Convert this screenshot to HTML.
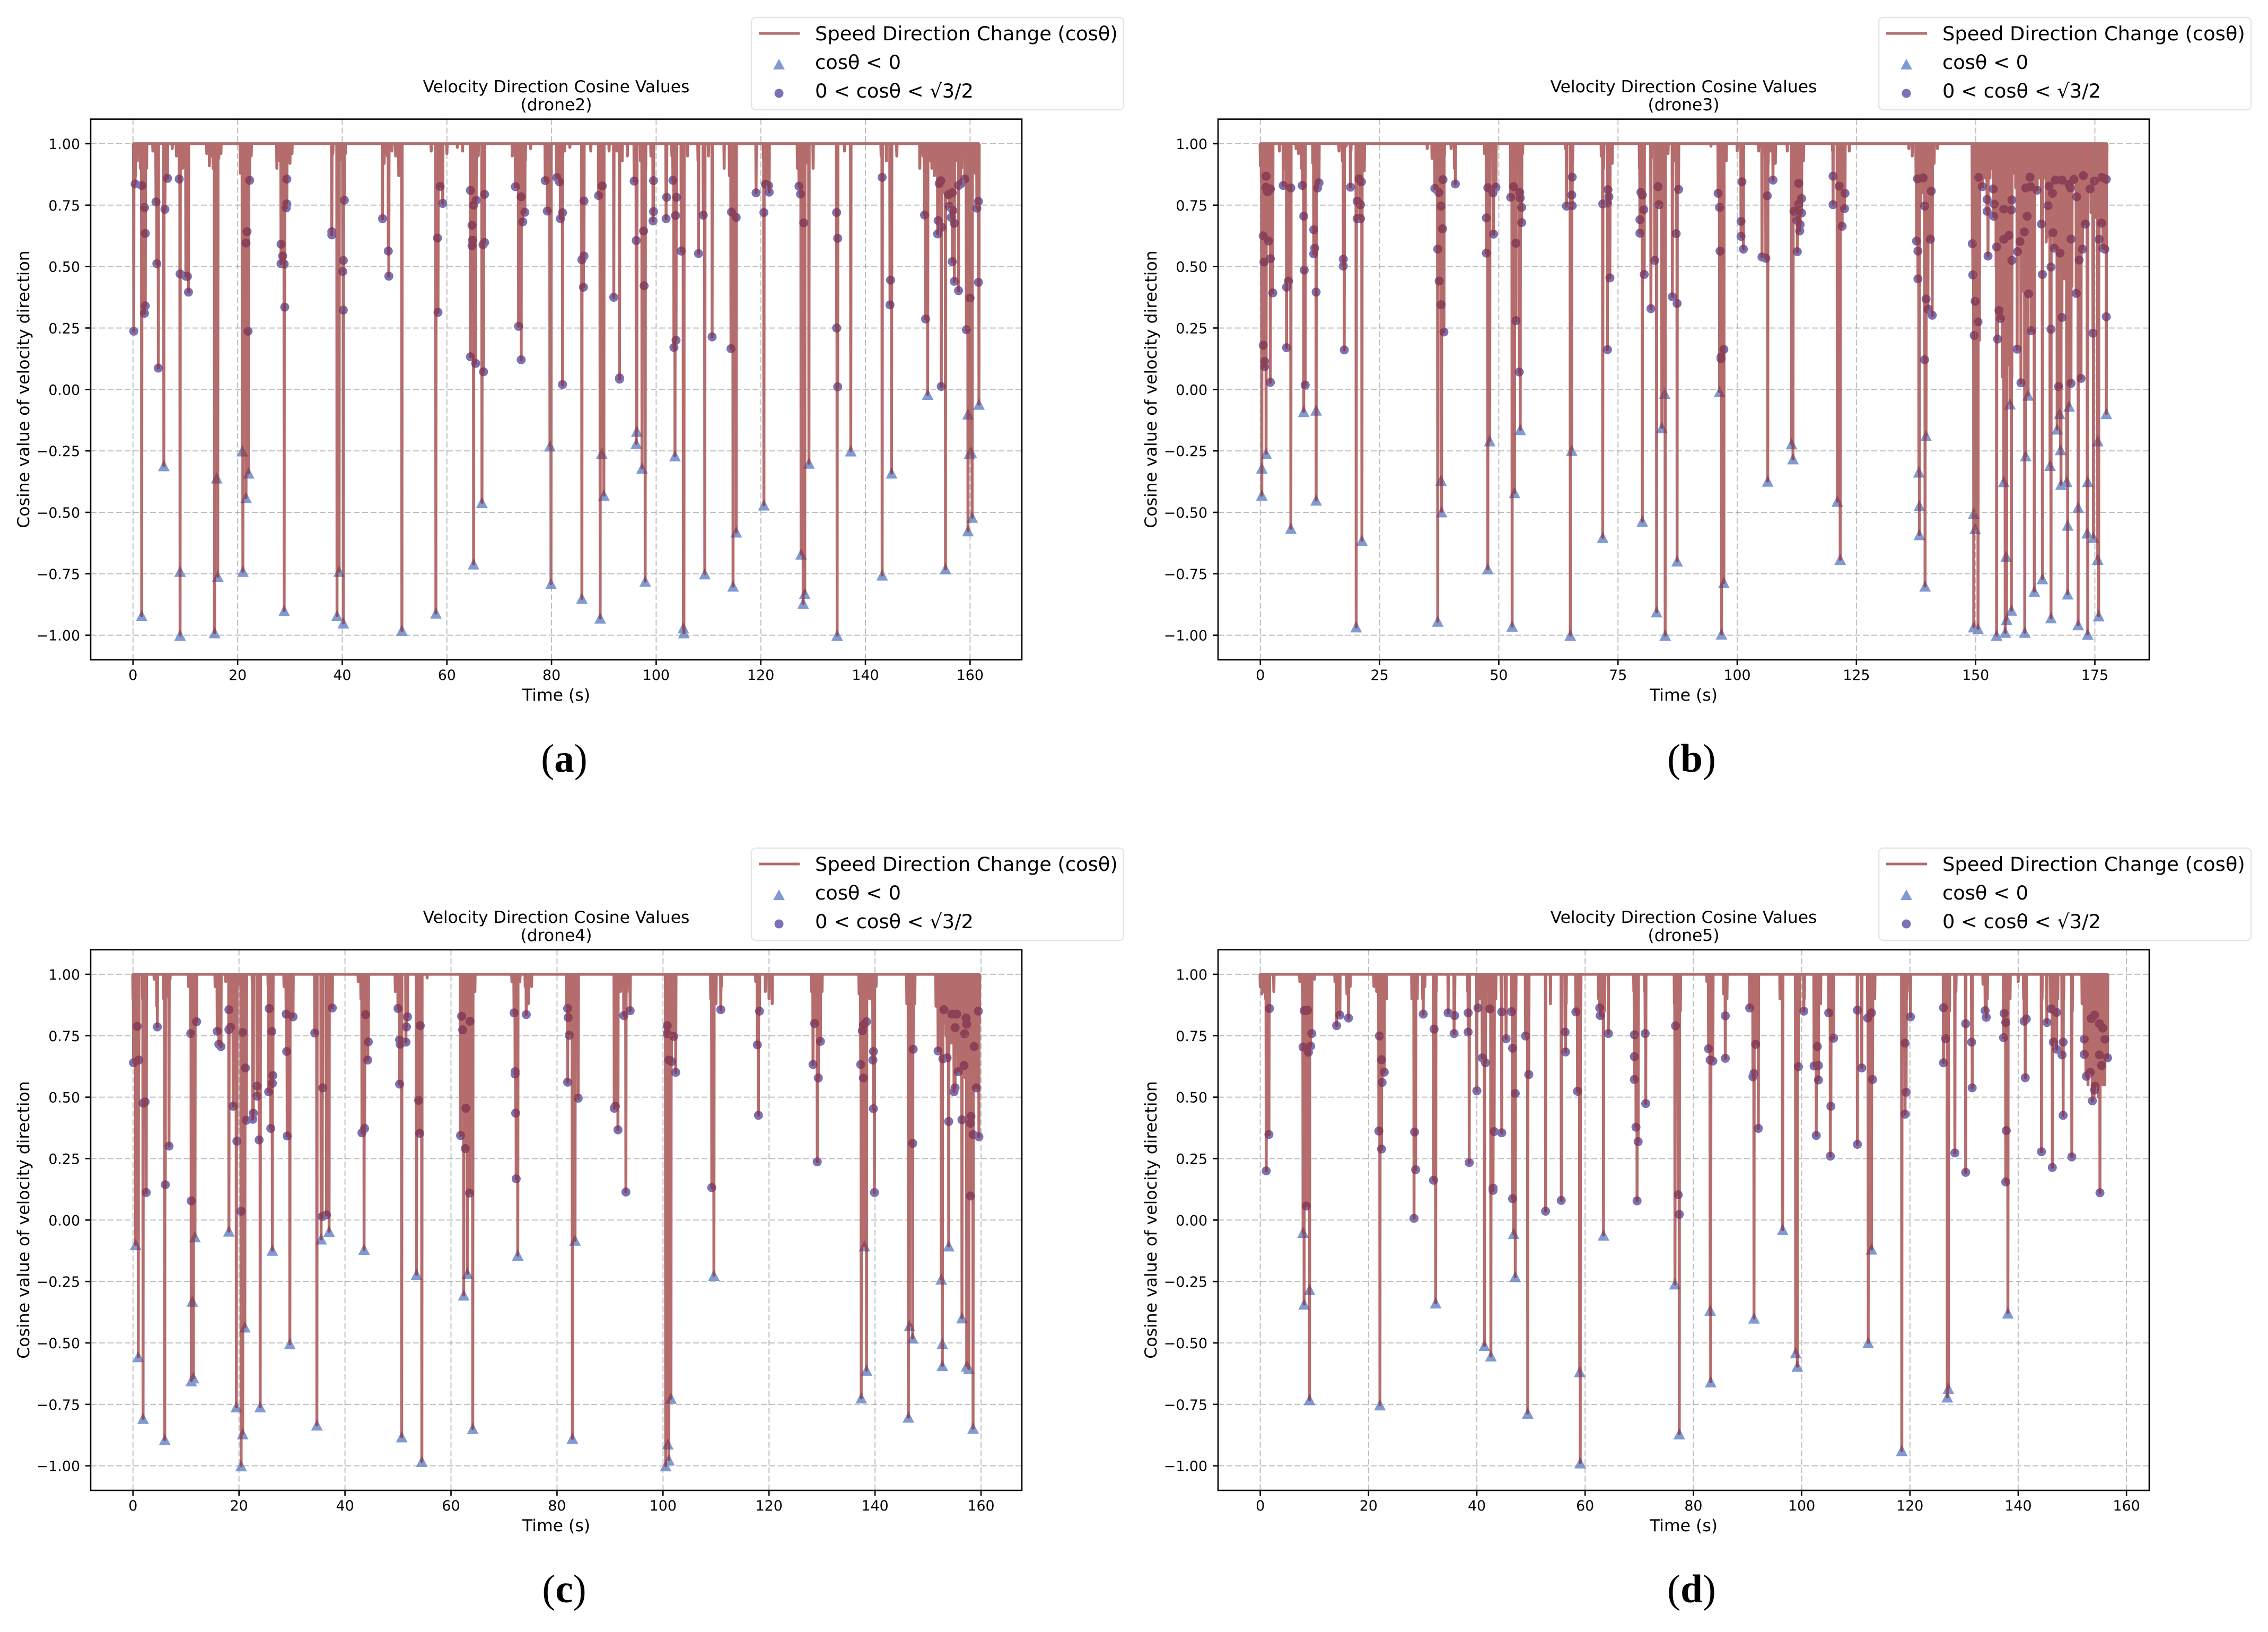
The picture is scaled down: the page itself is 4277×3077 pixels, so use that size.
<!DOCTYPE html>
<html lang="en">
<head>
<meta charset="utf-8">
<title>Velocity Direction Cosine Values</title>
<style>
html,body{margin:0;padding:0;background:#fff;}
svg{display:block;}
text{font-family:"DejaVu Sans","Liberation Sans",sans-serif;fill:#000;}
.title{font-size:31.4px;text-anchor:middle;}
.axis-label{font-size:31.5px;text-anchor:middle;}
.legend-text{font-size:36.8px;}
.tick{font-size:26.8px;}
.caption{font-family:"Liberation Serif",serif;font-size:75px;text-anchor:middle;}
</style>
</head>
<body>
<svg xmlns="http://www.w3.org/2000/svg" width="4277" height="3077" viewBox="0 0 4277 3077">
<rect width="4277" height="3077" fill="#fff"/>

<g transform="translate(0,0)">
  <g id="plot-a"></g>
  <text class="title" x="1049" y="174">Velocity Direction Cosine Values</text>
  <text class="title" x="1049" y="208">(drone2)</text>
  <text class="axis-label" x="1049" y="1321">Time (s)</text>
  <text class="axis-label" transform="translate(55,734) rotate(-90)">Cosine value of velocity direction</text>
  <g>
    <rect x="1417" y="33" width="702" height="174" rx="8" fill="#fff" stroke="#e6e6e6" stroke-width="2.5"/>
    <line x1="1431" x2="1508" y1="63" y2="63" stroke="#962d2d" stroke-opacity="0.7" stroke-width="5"/>
    <polygon points="1469,111 1480,131 1458,131" fill="#809bd3"/>
    <circle cx="1469" cy="176" r="8.5" fill="#7b71b5"/>
    <text class="legend-text" x="1537" y="76">Speed Direction Change (cosθ)</text>
    <text class="legend-text" x="1537" y="130">cosθ &lt; 0</text>
    <text class="legend-text" x="1537" y="184">0 &lt; cosθ &lt; √3/2</text>
  </g>
  <text class="caption" x="1064" y="1455">(<tspan font-weight="bold">a</tspan>)</text>
</g>

<g transform="translate(2126,0)">
  <g id="plot-b"></g>
  <text class="title" x="1049" y="174">Velocity Direction Cosine Values</text>
  <text class="title" x="1049" y="208">(drone3)</text>
  <text class="axis-label" x="1049" y="1321">Time (s)</text>
  <text class="axis-label" transform="translate(55,734) rotate(-90)">Cosine value of velocity direction</text>
  <g>
    <rect x="1417" y="33" width="702" height="174" rx="8" fill="#fff" stroke="#e6e6e6" stroke-width="2.5"/>
    <line x1="1431" x2="1508" y1="63" y2="63" stroke="#962d2d" stroke-opacity="0.7" stroke-width="5"/>
    <polygon points="1469,111 1480,131 1458,131" fill="#809bd3"/>
    <circle cx="1469" cy="176" r="8.5" fill="#7b71b5"/>
    <text class="legend-text" x="1537" y="76">Speed Direction Change (cosθ)</text>
    <text class="legend-text" x="1537" y="130">cosθ &lt; 0</text>
    <text class="legend-text" x="1537" y="184">0 &lt; cosθ &lt; √3/2</text>
  </g>
  <text class="caption" x="1064" y="1455">(<tspan font-weight="bold">b</tspan>)</text>
</g>

<g transform="translate(0,1566)">
  <g id="plot-c"></g>
  <text class="title" x="1049" y="174">Velocity Direction Cosine Values</text>
  <text class="title" x="1049" y="208">(drone4)</text>
  <text class="axis-label" x="1049" y="1321">Time (s)</text>
  <text class="axis-label" transform="translate(55,734) rotate(-90)">Cosine value of velocity direction</text>
  <g>
    <rect x="1417" y="33" width="702" height="174" rx="8" fill="#fff" stroke="#e6e6e6" stroke-width="2.5"/>
    <line x1="1431" x2="1508" y1="63" y2="63" stroke="#962d2d" stroke-opacity="0.7" stroke-width="5"/>
    <polygon points="1469,111 1480,131 1458,131" fill="#809bd3"/>
    <circle cx="1469" cy="176" r="8.5" fill="#7b71b5"/>
    <text class="legend-text" x="1537" y="76">Speed Direction Change (cosθ)</text>
    <text class="legend-text" x="1537" y="130">cosθ &lt; 0</text>
    <text class="legend-text" x="1537" y="184">0 &lt; cosθ &lt; √3/2</text>
  </g>
  <text class="caption" x="1064" y="1455">(<tspan font-weight="bold">c</tspan>)</text>
</g>

<g transform="translate(2126,1566)">
  <g id="plot-d"></g>
  <text class="title" x="1049" y="174">Velocity Direction Cosine Values</text>
  <text class="title" x="1049" y="208">(drone5)</text>
  <text class="axis-label" x="1049" y="1321">Time (s)</text>
  <text class="axis-label" transform="translate(55,734) rotate(-90)">Cosine value of velocity direction</text>
  <g>
    <rect x="1417" y="33" width="702" height="174" rx="8" fill="#fff" stroke="#e6e6e6" stroke-width="2.5"/>
    <line x1="1431" x2="1508" y1="63" y2="63" stroke="#962d2d" stroke-opacity="0.7" stroke-width="5"/>
    <polygon points="1469,111 1480,131 1458,131" fill="#809bd3"/>
    <circle cx="1469" cy="176" r="8.5" fill="#7b71b5"/>
    <text class="legend-text" x="1537" y="76">Speed Direction Change (cosθ)</text>
    <text class="legend-text" x="1537" y="130">cosθ &lt; 0</text>
    <text class="legend-text" x="1537" y="184">0 &lt; cosθ &lt; √3/2</text>
  </g>
  <text class="caption" x="1064" y="1455">(<tspan font-weight="bold">d</tspan>)</text>
</g>
</svg>

<script>
// ---------- shared axis data ----------
const yTickValues=[1,0.75,0.5,0.25,0,-0.25,-0.5,-0.75,-1];
const yTickLabels=["1.00","0.75","0.50","0.25","0.00","−0.25","−0.50","−0.75","−1.00"];
const yLimits=[-1.1,1.1];
const xTicksBy20=[0,20,40,60,80,100,120,140,160];
const xTicksBy25=[0,25,50,75,100,125,150,175];
const xLimitsA=[-8.09,169.9];
const xLimitsB=[-8.87,186.4];
const xLimitsC=[-7.98,167.7];
const xLimitsD=[-7.8,164.2];

// ---------- panel a (drone2): [time, cos] ----------
const trianglesA=[[1.66,-.92],[5.9,-.31],[9,-.74],[9,-1],[15.6,-.99],[16,-.36],[16.2,-.76],[20.9,-.25],[21,-.74],[21.6,-.44],[22.1,-.34],[28.9,-.9],[39,-.92],[39.4,-.74],[40.2,-.95],[51.4,-.98],[57.9,-.91],[65.1,-.71],[66.7,-.46],[79.7,-.23],[79.9,-.79],[85.8,-.85],[89.3,-.93],[89.6,-.26],[90,-.43],[96.3,-.17],[96.2,-.22],[97.3,-.32],[97.9,-.78],[103.6,-.27],[105.2,-.97],[105.3,-.99],[109.3,-.75],[114.7,-.8],[115.3,-.58],[120.6,-.47],[127.7,-.67],[128.1,-.87],[128.4,-.83],[129.2,-.3],[134.6,-1],[137.2,-.25],[143.2,-.755],[145,-.34],[151.9,-.02],[155.3,-.73],[159.6,-.1],[159.9,-.26],[160.2,-.255],[159.6,-.575],[160.4,-.52],[161.7,-.06]];
const circlesA=[[.14,.237],[.4,.836],[1.66,.83],[2.2,.74],[2.2,.31],[2.35,.34],[2.35,.635],[4.4,.763],[4.56,.512],[4.84,.087],[6.1,.733],[6.6,.859],[8.84,.856],[9,.47],[10.1,.461],[10.4,.46],[10.6,.396],[21.6,.596],[21.8,.642],[22,.237],[22.3,.851],[28.3,.512],[28.6,.543],[28.9,.51],[28.3,.591],[29,.335],[29.3,.739],[29.4,.755],[29.4,.856],[38,.642],[38,.629],[40.2,.525],[40.1,.48],[40.2,.323],[40.4,.77],[47.7,.695],[48.8,.563],[48.9,.461],[58.2,.616],[58.3,.314],[58.7,.826],[59.2,.757],[64.5,.81],[64.5,.133],[64.8,.668],[64.8,.585],[64.9,.607],[65.1,.75],[65.5,.106],[65.6,.77],[66.9,.589],[67.2,.598],[67,.072],[67.2,.794],[73.1,.825],[73.7,.257],[74.2,.121],[74.2,.784],[74.5,.682],[74.9,.721],[78.8,.85],[79.2,.726],[81,.862],[81.5,.845],[81.7,.695],[82.1,.719],[82.1,.02],[85.8,.528],[86.2,.543],[86.1,.416],[86.2,.767],[89,.789],[89.7,.828],[91.9,.375],[93,.047],[93,.042],[95.8,.848],[96.2,.606],[97.6,.645],[97.7,.422],[99.4,.686],[99.5,.724],[99.5,.85],[101.9,.695],[102,.782],[103.2,.851],[103.4,.171],[103.7,.708],[103.8,.2],[103.9,.782],[104.8,.563],[108.1,.553],[109,.709],[110.7,.214],[114.3,.166],[114.4,.722],[115.3,.7],[119.1,.8],[120.6,.72],[120.9,.835],[121.5,.829],[121.6,.803],[127.3,.827],[127.6,.795],[128.2,.678],[134.5,.72],[134.5,.25],[134.7,.615],[134.7,.011],[143.2,.863],[144.7,.344],[144.8,.445],[151.3,.71],[151.5,.287],[153.8,.633],[153.9,.687],[154.1,.838],[154.4,.849],[154.6,.66],[154.5,.012],[155.9,.793],[156,.745],[156.6,.8],[156.6,.52],[156.7,.728],[156.4,.7],[157,.676],[157,.44],[157.8,.83],[157.8,.402],[158.2,.836],[159,.856],[159.3,.243],[160,.372],[161.3,.738],[161.6,.765],[161.6,.436]];
const dipsA=[[.1,.94],[.3,.9],[.5,.87],[.8,.93],[1.4,.9],[2,.88],[2.6,.9],[3.8,.97],[4.1,.97],[4.6,.9],[6.2,.93],[7.5,.98],[8.3,.95],[9.5,.9],[14.1,.96],[14.6,.91],[15,.95],[15.3,.9],[15.8,.9],[16.4,.94],[16.8,.96],[20.5,.88],[21,.9],[22,.9],[22.6,.95],[27.5,.9],[28,.93],[29,.9],[29.8,.93],[30,.92],[30.4,.96],[38.2,.96],[39.5,.93],[40.6,.96],[48,.92],[48.6,.95],[49.5,.97],[50.2,.95],[50.8,.87],[51.2,.87],[57,.97],[58,.95],[59,.93],[60,.96],[62,.985],[63,.97],[64.5,.93],[65,.95],[66,.95],[72.5,.95],[73.5,.9],[74.2,.92],[75,.93],[76,.98],[79,.93],[81,.95],[82.5,.97],[83.5,.985],[86,.96],[87.5,.97],[90,.95],[91,.97],[92.5,.97],[93.5,.93],[94.5,.95],[96,.95],[97,.93],[98,.9],[99,.95],[102,.93],[103,.95],[105,.92],[106,.95],[108,.93],[110,.95],[113,.9],[114,.87],[115,.93],[119.2,.95],[120.5,.94],[121.5,.92],[127,.9],[128,.88],[129,.92],[130,.9],[134.5,.97],[136,.97],[143,.95],[144,.93],[145,.97],[146,.95],[150.4,.9],[151,.95],[152.2,.93],[152.7,.9],[153.2,.87],[153.6,.89],[154.2,.86],[154.8,.8],[155.3,.8],[155.8,.78],[156.3,.78],[156.8,.8],[157.4,.93],[158,.93],[158.4,.9],[159.2,.95],[160.4,.9],[160.9,.88],[161.6,.9]];

// ---------- panel b (drone3) ----------
const trianglesB=[[.3,-.32],[.3,-.43],[1.2,-.26],[6.4,-.565],[9.1,-.09],[11.7,-.084],[11.7,-.45],[20.1,-.966],[21.3,-.614],[37.2,-.943],[37.9,-.37],[38,-.498],[47.7,-.73],[48.1,-.209],[52.8,-.963],[53.3,-.42],[54.5,-.163],[65,-1],[65.3,-.248],[71.8,-.602],[80.1,-.536],[83.1,-.905],[84.2,-.155],[84.8,-.016],[84.9,-1],[87.4,-.698],[96.3,-.009],[96.7,-.995],[97.2,-.786],[106.4,-.373],[111.4,-.221],[111.7,-.282],[121,-.455],[121.6,-.691],[138.1,-.336],[138.2,-.473],[138.2,-.591],[139.4,-.8],[139.6,-.188],[149.6,-.966],[149.6,-.504],[149.9,-.566],[150.5,-.973],[154.4,-1],[155.9,-.375],[156.2,-.988],[156.4,-.679],[156.5,-.936],[157.2,-.059],[157.5,-.898],[160.3,-.988],[160.5,-.27],[161,-.023],[162.3,-.821],[164,-.77],[165.6,-.309],[165.8,-.929],[167.1,-.161],[167.6,-.098],[167.8,-.245],[167.9,-.386],[169.1,-.375],[169.3,-.832],[169.3,-.552],[169.6,-.068],[171.5,-.48],[171.5,-.957],[173.4,-.584],[173.5,-.375],[173.5,-.996],[174.7,-.602],[175.6,-.691],[175.6,-.209],[175.8,-.921],[177.4,-.098]];
const circlesB=[[.6,.18],[.76,.518],[.9,.114],[.9,.093],[.6,.625],[1.2,.868],[1.2,.823],[1.5,.804],[1.7,.604],[2.1,.816],[2.1,.532],[2.1,.029],[2.6,.393],[4.8,.83],[5.5,.416],[5.5,.17],[5.9,.441],[6.4,.82],[8.8,.83],[9.1,.705],[9.2,.486],[9.4,.018],[11.2,.65],[11.2,.552],[11.4,.575],[11.7,.396],[12,.82],[12.3,.841],[17.4,.53],[17.4,.502],[17.6,.161],[18.9,.823],[20.3,.766],[20.3,.695],[20.7,.857],[21,.695],[21,.752],[21.2,.845],[36.6,.818],[37.2,.571],[37.4,.802],[37.5,.441],[37.9,.746],[37.9,.345],[38.2,.654],[38.3,.854],[38.5,.234],[40.9,.836],[47.4,.698],[47.4,.555],[47.7,.821],[48.8,.8],[49.4,.823],[48.9,.632],[52.5,.782],[53.1,.825],[53.6,.595],[53.6,.28],[54.4,.802],[54.5,.779],[54.8,.741],[54.8,.679],[54.3,.071],[64.2,.746],[65.3,.791],[65.4,.748],[65.4,.864],[71.8,.755],[72.8,.162],[72.8,.759],[72.9,.813],[73.1,.784],[73.3,.454],[79.6,.636],[79.6,.691],[79.8,.802],[80.1,.791],[80.4,.732],[80.5,.468],[81.9,.329],[82.7,.525],[83.4,.825],[83.6,.752],[86.4,.377],[87.4,.35],[87.2,.634],[87.7,.814],[96,.798],[96.3,.741],[96.4,.563],[96.6,.125],[96.6,.132],[97.2,.163],[100.8,.684],[101,.845],[100.8,.623],[101.3,.571],[105.2,.539],[106,.534],[106.3,.788],[107.5,.852],[111.9,.725],[112.3,.725],[112.5,.688],[112.6,.561],[112.9,.754],[112.9,.839],[113.1,.645],[113.2,.671],[113.5,.718],[113.5,.777],[120.1,.868],[120.1,.752],[121.4,.827],[122,.664],[122.5,.736],[122.6,.798],[137.6,.604],[137.8,.857],[137.9,.563],[137.9,.45],[139,.861],[139.3,.746],[139.3,.121],[139.6,.368],[140,.327],[140.7,.807],[140.5,.611],[140.9,.302],[149.3,.593],[149.4,.466],[149.7,.22],[149.9,.359],[150.5,.275],[150.6,.863],[151.4,.825],[152.4,.773],[152.4,.725],[152.6,.543],[153.7,.816],[153.9,.754],[153.8,.705],[154.6,.205],[154.4,.58],[154.9,.321],[155.2,.289],[155.9,.611],[155.9,.734],[157,.627],[157.5,.73],[157.6,.525],[157.6,.771],[158.7,.164],[158.8,.561],[159.3,.602],[159.5,.027],[160.2,.641],[160.5,.82],[160.8,.705],[161.1,.389],[161.4,.864],[161.7,.239],[161.5,.825],[162.9,.811],[163.8,.673],[164,.468],[165.2,.748],[165.4,.827],[165.8,.498],[165.8,.245],[166.1,.798],[166.2,.638],[166.5,.575],[166.7,.852],[167.4,.012],[167.7,.555],[168.1,.293],[168.1,.852],[169.6,.834],[169.9,.82],[170,.612],[170,.025],[170.6,.855],[171.2,.784],[171.1,.391],[171.7,.527],[172.4,.571],[172.6,.87],[172.1,.045],[173,.673],[174,.816],[174.6,.229],[174.9,.848],[175.9,.611],[176.4,.677],[176.7,.575],[176.5,.863],[177.1,.571],[177.4,.855],[177.4,.296]];
const dipsB=[[0,.91],[.2,.85],[.5,.8],[.9,.85],[1.4,.82],[2,.9],[2.5,.93],[4,.97],[5,.9],[5.6,.85],[6,.9],[7.5,.98],[8,.96],[8.6,.9],[9.3,.85],[11,.92],[11.5,.85],[12,.97],[16.5,.97],[17.2,.93],[18,.99],[19,.97],[20.5,.9],[21.3,.95],[21.8,.89],[35,.98],[36,.94],[37,.9],[37.5,.85],[38,.9],[38.6,.95],[40,.98],[40.7,.9],[47,.96],[48,.93],[49,.9],[52.7,.9],[53.5,.9],[54.2,.9],[55,.96],[64,.98],[65,.93],[65.5,.93],[71.5,.95],[72,.9],[73,.88],[73.8,.92],[79.5,.9],[80.5,.93],[82,.94],[83,.9],[84.5,.9],[85.5,.96],[87,.93],[94.5,.99],[96,.9],[97,.88],[97.7,.93],[100,.97],[100.9,.9],[104.5,.97],[105.3,.95],[106.5,.92],[107,.97],[108,.92],[110.5,.97],[111.5,.86],[112.1,.85],[112.7,.86],[113.3,.86],[113.9,.93],[120,.97],[121,.92],[122,.88],[122.6,.9],[123.5,.97],[136,.98],[136.7,.95],[137.5,.85],[138,.9],[138.5,.75],[139,.8],[139.5,.75],[140,.78],[140.5,.72],[140.9,.75],[141.3,.92],[142,.98],[149.6,.1],[150,.15],[150.4,.1],[150.8,.2],[151.5,.95],[152,.86],[152.5,.94],[153,.86],[153.3,.9],[153.7,.87],[154.3,.5],[154.7,.45],[155.1,.5],[155.6,.05],[156,.1],[156.4,.05],[156.8,.1],[157.2,0],[157.6,.05],[158,.88],[158.4,.82],[158.8,.85],[159.3,.8],[159.9,.4],[160.3,.35],[160.8,.3],[161.3,.4],[161.7,.35],[162,.4],[162.6,.83],[163,.92],[163.4,.86],[163.8,.8],[164.3,.86],[164.8,.6],[165.2,.62],[165.7,.6],[166.2,.65],[166.7,.62],[167.2,.85],[167.7,.83],[168.1,.4],[168.6,.45],[169.1,.4],[169.6,.45],[170.2,.42],[170.7,.84],[171.2,.7],[171.7,.82],[172.2,.72],[172.7,.85],[173.2,.7],[173.7,.82],[174.2,.72],[174.7,.82],[175.2,.7],[175.7,.85],[176.2,.72],[176.7,.84],[177.2,.7],[177.5,.86]];

// ---------- panel c (drone4) ----------
const trianglesC=[[.5,-.1],[1,-.556],[1.9,-.807],[6,-.893],[11,-.654],[11.2,-.33],[11.4,-.642],[11.7,-.068],[18.1,-.045],[19.5,-.76],[20.4,-1],[20.7,-.87],[21.1,-.435],[24,-.76],[26.3,-.123],[29.6,-.503],[34.7,-.834],[35.5,-.077],[37,-.046],[43.6,-.119],[50.7,-.882],[53.5,-.221],[54.5,-.982],[62.4,-.305],[63.1,-.217],[64.1,-.848],[72.6,-.143],[82.9,-.888],[83.4,-.082],[100.5,-1],[100.9,-.911],[101.1,-.975],[101.5,-.725],[109.6,-.225],[137.4,-.724],[138,-.105],[138.4,-.611],[146.3,-.802],[146.5,-.43],[147.1,-.48],[152.5,-.24],[152.7,-.503],[152.7,-.592],[153.9,-.105],[156.4,-.398],[157.3,-.594],[157.7,-.604],[158.5,-.847]];
const circlesC=[[.1,.64],[.8,.788],[1.1,.651],[1.9,.476],[2.3,.481],[2.5,.112],[4.6,.786],[6.1,.144],[6.8,.301],[10.9,.759],[11,.078],[12,.807],[15.9,.768],[16.2,.715],[16.6,.706],[18.1,.856],[18.1,.775],[18.4,.784],[18.9,.463],[19.6,.321],[20.4,.036],[20.7,.763],[21.2,.619],[21.4,.406],[22.6,.41],[22.7,.435],[23.4,.545],[23.4,.504],[23.8,.326],[25.6,.522],[25.7,.861],[26,.373],[26.2,.767],[26.3,.556],[26.4,.588],[28.9,.838],[29,.686],[29.1,.342],[30.2,.827],[34.3,.761],[35.7,.014],[35.8,.538],[36.5,.021],[37.6,.863],[43.2,.355],[43.9,.836],[43.7,.373],[44.3,.651],[44.4,.725],[50,.861],[50.3,.733],[50.4,.715],[50.3,.553],[51.5,.724],[51.6,.786],[51.8,.827],[53.9,.487],[54.1,.353],[54.2,.791],[62,.829],[61.8,.344],[62.2,.774],[62.7,.291],[62.8,.455],[63.5,.11],[63.6,.809],[71.9,.843],[72.1,.594],[72.1,.604],[72.2,.435],[72.3,.168],[74.2,.836],[82,.861],[82.1,.824],[82.3,.752],[82,.561],[84,.496],[90.8,.455],[91,.463],[91.5,.367],[92.6,.832],[93,.114],[93.8,.852],[100.8,.758],[100.8,.791],[101.1,.651],[101.6,.645],[102,.747],[102.4,.601],[109.2,.132],[110.9,.856],[117.8,.713],[118,.426],[118.2,.85],[128.3,.633],[128.6,.8],[129.1,.237],[129.3,.578],[129.7,.727],[137.3,.633],[137.6,.77],[137.8,.578],[137.8,.793],[138.4,.807],[139.6,.651],[139.7,.686],[139.7,.453],[139.9,.112],[147.1,.312],[147.2,.695],[151.9,.688],[152.8,.656],[153,.856],[153.6,.66],[153.9,.401],[154.5,.838],[154.9,.522],[155.1,.538],[155.1,.783],[155.4,.838],[155.7,.604],[156.4,.408],[156.9,.758],[156.8,.629],[157.2,.822],[157.3,.797],[158,.098],[158.1,.422],[158,.394],[158.7,.706],[158.5,.348],[159.1,.538],[159.5,.85],[159.6,.339]];
const dipsC=[[0,.9],[.3,.85],[.6,.8],[1,.85],[1.8,.9],[2.5,.95],[4,.98],[4.5,.87],[5.8,.9],[6.4,.91],[7,.98],[10.5,.95],[11,.9],[11.5,.88],[12,.97],[15.5,.95],[16,.88],[17.5,.97],[18.2,.9],[19.5,.95],[20,.96],[20.6,.88],[21,.9],[22.5,.97],[23.5,.93],[24,.97],[25.5,.95],[26.3,.9],[28.5,.95],[29.3,.9],[30,.93],[34.5,.95],[35.5,.93],[36.6,.9],[37.3,.93],[42.5,.97],[43,.9],[43.8,.88],[44.4,.9],[49.5,.93],[50.4,.88],[51.5,.9],[53.5,.95],[54.2,.93],[55.5,.985],[61.8,.9],[62.4,.85],[63,.85],[63.5,.85],[64,.88],[64.5,.93],[71.5,.97],[72.3,.88],[73,.97],[74,.95],[74.6,.88],[75.2,.95],[81.8,.88],[82.4,.85],[83.1,.85],[84,.95],[91,.9],[92,.93],[93.2,.93],[100.5,.85],[101,.82],[101.5,.87],[102,.95],[109,.9],[110,.88],[111,.95],[117.5,.97],[118,.93],[119.3,.93],[120,.9],[120.6,.88],[128,.93],[128.5,.88],[129,.88],[129.6,.88],[130,.93],[137,.92],[137.7,.87],[138.3,.87],[139,.9],[139.6,.91],[140.2,.95],[146,.88],[146.5,.85],[147,.83],[147.5,.88],[151.5,.87],[152,.9],[152.5,.82],[153,.8],[153.4,.75],[153.8,.8],[154.2,.72],[154.6,.72],[155,.7],[155.4,.7],[155.8,.65],[156.2,.62],[156.6,.6],[157,.58],[157.4,.56],[157.8,.55],[158.2,.56],[158.6,.6],[159,.65],[159.4,.7],[159.7,.8]];

// ---------- panel d (drone5) ----------
const trianglesD=[[7.9,-.05],[8.1,-.342],[9.1,-.283],[9.1,-.731],[22.1,-.752],[32.4,-.337],[41.4,-.51],[42.6,-.553],[46.8,-.055],[47.1,-.23],[49.4,-.786],[59,-.617],[59.1,-.988],[63.4,-.061],[76.6,-.26],[77.4,-.87],[83.1,-.367],[83.2,-.658],[91.2,-.399],[96.5,-.039],[98.9,-.54],[99.2,-.595],[112.3,-.499],[112.9,-.118],[118.5,-.938],[126.9,-.72],[127.1,-.685],[138.1,-.378]];
const circlesD=[[1.1,.2],[1.6,.348],[1.7,.861],[7.9,.704],[8.1,.852],[8.5,.057],[8.7,.854],[8.9,.683],[9.3,.708],[9.5,.759],[14.1,.791],[14.7,.834],[16.3,.822],[21.9,.362],[22,.749],[22.4,.652],[22.5,.56],[22.4,.289],[22.9,.602],[28.4,.007],[28.5,.358],[28.7,.205],[30.1,.838],[32.1,.777],[32,.162],[34.7,.843],[35.9,.832],[35.8,.759],[38.4,.843],[38.4,.765],[38.6,.234],[40,.526],[40.2,.863],[41,.66],[41.6,.64],[42.4,.859],[43,.13],[43,.121],[43.2,.36],[44.6,.847],[44.6,.355],[45.4,.738],[46.4,.848],[46.6,.699],[46.6,.087],[47.1,.515],[49,.749],[49.6,.592],[52.7,.036],[55.6,.08],[56.3,.765],[56.4,.684],[58.3,.847],[58.6,.524],[62.7,.863],[62.8,.832],[64.3,.759],[69.1,.754],[69.1,.665],[69.1,.572],[69.4,.378],[69.6,.078],[69.8,.319],[71.1,.759],[71.2,.474],[76.7,.79],[77.2,.103],[77.4,.023],[82.8,.697],[83.1,.651],[83.6,.647],[85.9,.831],[85.9,.658],[90.4,.863],[91,.583],[91.2,.597],[91.5,.715],[92,.373],[99.4,.624],[100.4,.85],[102.3,.627],[103.1,.629],[102.9,.706],[102.7,.344],[103.1,.57],[105,.843],[105.4,.463],[105.3,.26],[105.9,.74],[110.3,.854],[110.3,.308],[111.1,.619],[112.2,.822],[112.9,.843],[113.1,.572],[119.1,.72],[119.3,.52],[119.1,.431],[120.1,.827],[126.2,.864],[126.2,.64],[126.6,.738],[128.3,.273],[130.3,.799],[130.3,.194],[131.4,.724],[131.5,.538],[133.9,.852],[134.1,.825],[137.3,.742],[137.4,.841],[137.7,.804],[137.7,.155],[137.8,.364],[141.1,.809],[141.3,.579],[141.5,.818],[144.3,.278],[145.3,.804],[146.1,.859],[146.3,.214],[146.5,.724],[147.1,.845],[147.1,.695],[148.1,.672],[148.3,.724],[148.3,.426],[149.9,.257],[152.2,.736],[152.2,.674],[152.6,.585],[153.3,.601],[153.5,.82],[153.7,.485],[154.1,.834],[154.1,.529],[154.2,.545],[155.1,.111],[155,.672],[155,.799],[155.4,.629],[155.6,.781],[156,.736],[156.5,.66]];
const dipsD=[[0,.95],[.3,.92],[.6,.93],[1,.9],[1.5,.9],[2.5,.93],[7.3,.97],[7.8,.9],[8.3,.8],[8.8,.7],[9.3,.8],[10,.98],[13.8,.97],[14.4,.93],[16,.92],[16.6,.95],[21,.95],[21.5,.93],[22.2,.85],[22.8,.85],[23.3,.9],[28,.9],[28.5,.8],[29,.9],[30,.9],[30.4,.95],[32,.9],[32.5,.93],[34.7,.9],[35.8,.9],[38.3,.93],[40,.9],[40.6,.9],[41.5,.9],[42.2,.85],[42.8,.85],[43.5,.9],[44.5,.93],[45.3,.85],[46.5,.85],[47.2,.85],[49,.93],[52.7,.93],[53.6,.88],[55.6,.93],[56.5,.88],[58.5,.88],[59.2,.85],[62.5,.9],[63,.85],[63.6,.85],[64.3,.9],[69,.93],[69.7,.9],[71,.93],[76.5,.88],[77,.8],[77.6,.85],[82.5,.97],[83,.88],[83.5,.85],[85.6,.92],[86.2,.9],[90.5,.88],[91,.82],[91.6,.82],[92,.88],[96,.9],[96.5,.85],[99,.9],[99.6,.85],[100.5,.9],[102.5,.88],[103,.85],[103.5,.88],[105.2,.85],[105.9,.85],[110.3,.93],[111,.95],[112.4,.85],[113,.78],[113.5,.9],[118.7,.93],[119.4,.9],[120,.93],[126.2,.85],[126.8,.8],[127.3,.85],[128.5,.93],[130.3,.9],[131.4,.92],[133.5,.96],[134.3,.9],[137.5,.88],[138,.85],[138.5,.9],[140,.97],[141,.9],[141.5,.92],[144.4,.9],[146,.85],[146.8,.88],[147.3,.9],[148.4,.9],[150,.85],[151.8,.88],[152.2,.82],[152.5,.6],[152.9,.55],[153.3,.6],[153.7,.55],[154,.5],[154.4,.55],[154.8,.5],[155.2,.6],[155.6,.55],[156,.55],[156.4,.7]];

const SVG_NS='http://www.w3.org/2000/svg';
const axesLeft=171, axesRight=1927, axesTop=224.6, axesBottom=1244;
const dipHalfWidth=0.05;

function makeEl(tag,parent){
  const el=document.createElementNS(SVG_NS,tag);
  parent.appendChild(el);
  return el;
}

function drawPanel(plotId,xLimits,xTicks,triangles,circles,dips){
  const root=document.getElementById(plotId);
  const xScale=function(t){return axesLeft+(t-xLimits[0])/(xLimits[1]-xLimits[0])*(axesRight-axesLeft);};
  const yScale=function(v){return axesBottom-(v-yLimits[0])/(yLimits[1]-yLimits[0])*(axesBottom-axesTop);};

  // triangle markers
  triangles.forEach(function(p){
    const x=xScale(p[0]),y=yScale(p[1]);
    const m=makeEl('polygon',root);
    
    
    m.setAttribute('points',x+','+(y-11)+' '+(x+11)+','+(y+10.5)+' '+(x-11)+','+(y+10.5));
    m.setAttribute('fill','#809bd3');
  });
  // circle markers
  circles.forEach(function(p){
    const m=makeEl('circle',root);
    
    
    m.setAttribute('cx',xScale(p[0]));m.setAttribute('cy',yScale(p[1]));m.setAttribute('r','8.5');
    m.setAttribute('fill','#7b71b5');
  });

  // cosine line: spikes from the unit baseline through every reading
  const readings=triangles.concat(circles,dips).slice().sort(function(a,b){return a[0]-b[0];});
  let d='';
  readings.forEach(function(p,i){
    const prefix=i===0?'M':'L';
    d+=prefix+xScale(p[0]-dipHalfWidth).toFixed(1)+' '+yScale(1).toFixed(1);
    d+='L'+xScale(p[0]).toFixed(1)+' '+yScale(p[1]).toFixed(1);
    d+='L'+xScale(p[0]+dipHalfWidth).toFixed(1)+' '+yScale(1).toFixed(1);
  });
  const line=makeEl('path',root);
  
  
  line.setAttribute('d',d);
  line.setAttribute('fill','none');
  line.setAttribute('stroke','#962d2d');
  line.setAttribute('stroke-opacity','0.7');
  line.setAttribute('stroke-width','5.5');
  line.setAttribute('stroke-linejoin','round');

  // grid (semi-transparent, above the series)
  xTicks.forEach(function(t){
    const g=makeEl('line',root);
    
    
    g.setAttribute('x1',xScale(t));g.setAttribute('x2',xScale(t));
    g.setAttribute('y1',axesTop);g.setAttribute('y2',axesBottom);
    g.setAttribute('stroke','#808080');g.setAttribute('stroke-opacity','0.5');g.setAttribute('stroke-width','2');g.setAttribute('stroke-dasharray','11 5');
  });
  yTickValues.forEach(function(v){
    const g=makeEl('line',root);
    
    
    g.setAttribute('x1',axesLeft);g.setAttribute('x2',axesRight);
    g.setAttribute('y1',yScale(v));g.setAttribute('y2',yScale(v));
    g.setAttribute('stroke','#808080');g.setAttribute('stroke-opacity','0.5');g.setAttribute('stroke-width','2');g.setAttribute('stroke-dasharray','11 5');
  });

  // frame
  const frame=makeEl('rect',root);
  
  
  frame.setAttribute('x',axesLeft);frame.setAttribute('y',axesTop);
  frame.setAttribute('width',axesRight-axesLeft);frame.setAttribute('height',axesBottom-axesTop);
  frame.setAttribute('fill','none');frame.setAttribute('stroke','#000');frame.setAttribute('stroke-width','2.6');

  // x ticks
  xTicks.forEach(function(t){
    const mark=makeEl('line',root);
    
    
    mark.setAttribute('x1',xScale(t));mark.setAttribute('x2',xScale(t));
    mark.setAttribute('y1',axesBottom);mark.setAttribute('y2',axesBottom+10);
    mark.setAttribute('stroke','#000');mark.setAttribute('stroke-width','2.6');
    const lab=makeEl('text',root);
    
    
    lab.setAttribute('class','tick');
    lab.setAttribute('x',xScale(t));lab.setAttribute('y',axesBottom+38);
    lab.setAttribute('text-anchor','middle');
    lab.textContent=String(t);
  });
  // y ticks
  yTickValues.forEach(function(v,i){
    const mark=makeEl('line',root);
    
    
    mark.setAttribute('x1',axesLeft-10);mark.setAttribute('x2',axesLeft);
    mark.setAttribute('y1',yScale(v));mark.setAttribute('y2',yScale(v));
    mark.setAttribute('stroke','#000');mark.setAttribute('stroke-width','2.6');
    const lab=makeEl('text',root);
    
    
    lab.setAttribute('class','tick');
    lab.setAttribute('x',axesLeft-20);lab.setAttribute('y',yScale(v)+10);
    lab.setAttribute('text-anchor','end');
    lab.textContent=yTickLabels[i];
  });
}

drawPanel('plot-a',xLimitsA,xTicksBy20,trianglesA,circlesA,dipsA);
drawPanel('plot-b',xLimitsB,xTicksBy25,trianglesB,circlesB,dipsB);
drawPanel('plot-c',xLimitsC,xTicksBy20,trianglesC,circlesC,dipsC);
drawPanel('plot-d',xLimitsD,xTicksBy20,trianglesD,circlesD,dipsD);
</script>
</body>
</html>
